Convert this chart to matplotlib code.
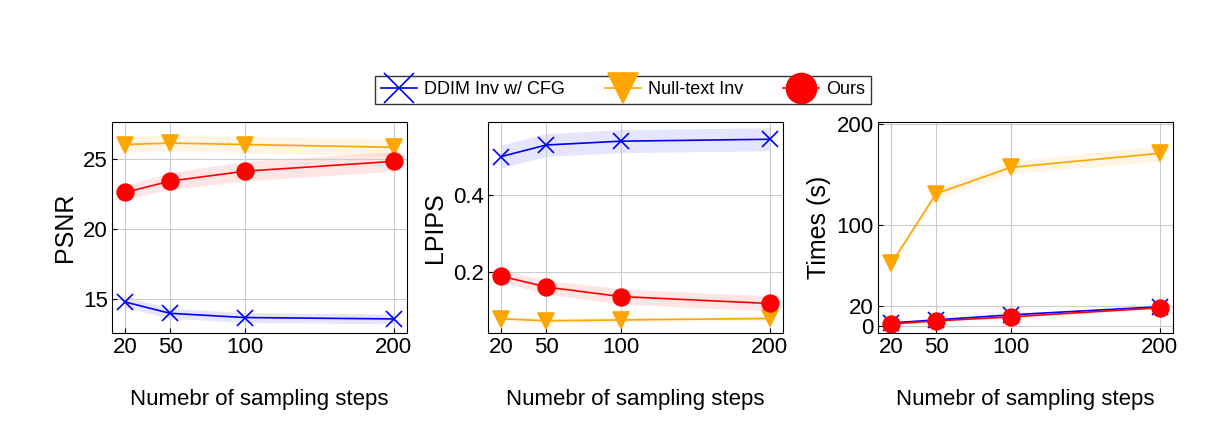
import numpy as np
import matplotlib
matplotlib.use('Agg')
from matplotlib import pyplot as plt

plt.rcParams['font.family'] = ['Liberation Sans', 'DejaVu Sans']

steps = [20, 50, 100, 200]
labels = ['DDIM Inv w/ CFG', 'Null-text Inv', 'Ours']

psnr_ddim = [14.8, 14.0, 13.7, 13.6]
psnr_null = [26.0, 26.1, 26.0, 25.8]
psnr_ours = [22.6, 23.4, 24.1, 24.8]
psnr_band = [[0.4, 0.35, 0.35, 0.35], [0.6, 0.6, 0.6, 0.6], [0.5, 0.6, 0.7, 0.7]]

lpips_ddim = [0.50, 0.53, 0.54, 0.545]
lpips_null = [0.077, 0.072, 0.074, 0.078]
lpips_ours = [0.188, 0.160, 0.135, 0.117]
lpips_band = [[0.03, 0.03, 0.03, 0.03], [0.006, 0.006, 0.006, 0.006], [0.015, 0.018, 0.02, 0.02]]

time_ddim = [3, 6, 11, 19]
time_null = [62, 131, 157, 171]
time_ours = [2, 5, 9, 18]
time_band = [[1, 1, 1, 1], [2, 5, 6, 8], [1, 1, 1, 1]]

colors = ['blue', 'orange', 'red']
markers = ['x', 'v', 'o']

panels = [
    ('PSNR', [psnr_ddim, psnr_null, psnr_ours], psnr_band, (12.6, 27.6), [15, 20, 25], ['15', '20', '25']),
    ('LPIPS', [lpips_ddim, lpips_null, lpips_ours], lpips_band, (0.04, 0.59), [0.2, 0.4], ['0.2', '0.4']),
    ('Times (s)', [time_ddim, time_null, time_ours], time_band, (-7, 202), [0, 20, 100, 200], ['0', '20', '100', '200']),
]

fig = plt.figure(figsize=(12.32, 4.32), dpi=100)
lefts = [112, 488, 878]
handles = []
for k, (ylab, series, bands, ylim, yt, ytl) in enumerate(panels):
    ax = fig.add_axes([lefts[k] / 1232, 1 - 333 / 432, 295 / 1232, 211 / 432])
    for i, vals in enumerate(series):
        v = np.array(vals)
        b = np.array(bands[i])
        ax.fill_between(steps, v - b, v + b, color=colors[i], alpha=0.1, linewidth=0)
        h, = ax.plot(steps, v, color=colors[i], marker=markers[i], markersize=12,
                     linewidth=1.2, markeredgewidth=1.2, label=labels[i])
        if k == 0:
            handles.append(h)
    ax.set_xlim(11, 209)
    ax.set_ylim(*ylim)
    ax.set_xticks(steps)
    ax.set_yticks(yt)
    ax.set_yticklabels(ytl)
    ax.grid(True, color='#cccccc', linewidth=0.8)
    ax.tick_params(direction='in', labelsize=16, pad=3)
    ax.set_ylabel(ylab, fontsize=18, labelpad=4)
    ax.set_xlabel('Numebr of sampling steps', fontsize=16, labelpad=22)

fig.legend(handles=handles, labels=labels, loc='center', bbox_to_anchor=(623 / 1232, 1 - 90 / 432),
           ncol=3, fontsize=13, frameon=True, edgecolor='black', fancybox=False,
           markerscale=1.8, columnspacing=2.2, handletextpad=0.4, borderpad=0.3)

fig.savefig('out.png', dpi=100)
